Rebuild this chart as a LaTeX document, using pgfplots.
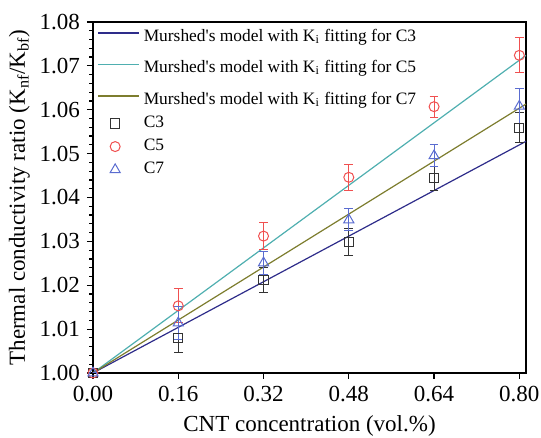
\documentclass[border=0pt]{standalone}
\usepackage{fontspec}
\setmainfont{Liberation Serif}
\usepackage{pgfplots}
\pgfplotsset{compat=1.18}
\definecolor{cThree}{HTML}{2E2C8A}
\definecolor{cFive}{HTML}{4FAFB0}
\definecolor{cSeven}{HTML}{7D7D2E}
\definecolor{mThree}{HTML}{333333}
\definecolor{mFive}{HTML}{F05050}
\definecolor{mSeven}{HTML}{5A6CD0}
\newcommand{\lstrut}{\rule[-5.5pt]{0pt}{15.5pt}}
\pgfplotsset{longline/.style={legend image code/.code={\draw[##1, line width=0.7pt] (0cm,0cm) -- (0.72cm,0cm);}}}

\begin{document}
\begin{tikzpicture}
\begin{axis}[
  name=ax,
  scale only axis, width=216.5pt, height=175.5pt,
  xmin=0, xmax=0.8125, ymin=1.0, ymax=1.08,
  xtick={0,0.16,0.32,0.48,0.64,0.80},
  ytick={1.00,1.01,...,1.08},
  minor y tick num=4,
  xticklabel style={/pgf/number format/.cd, fixed, fixed zerofill, precision=2},
  yticklabel style={/pgf/number format/.cd, fixed, fixed zerofill, precision=2},
  /pgf/number format/assume math mode=true,
  tick label style={font=\fontsize{11.5}{13}\selectfont},
  label style={font=\fontsize{11.5}{13}\selectfont},
  xlabel={CNT concentration (vol.\%)},
  ylabel={Thermal conductivity ratio (K$_{\mathrm{nf}}$/K$_{\mathrm{bf}}$)},
  ylabel style={yshift=-2pt},
  tick align=outside, xtick pos=bottom, ytick pos=left,
  major tick length=3pt, minor tick length=1.8pt,
  axis line style={line width=0.9pt}, every tick/.style={black, line width=0.6pt},
  legend style={draw=none, fill=none, font=\fontsize{8.7}{10}\selectfont,
    at={(0.0,1.0)}, anchor=north west, row sep=0.3pt, yshift=4.5pt, xshift=-1pt},
  legend cell align=left,
  error bars/error bar style={line width=0.5pt},
  error bars/error mark options={rotate=90, mark size=2.2pt, line width=0.5pt},
]
\addplot[cThree, line width=0.6pt, mark=none, longline] coordinates {(0,1.0)(0.8125,1.0528)};
\addlegendentry{\lstrut Murshed\textquotesingle s model with K$_{\mathrm{i}}$ fitting for C3}
\addplot[cFive, line width=0.6pt, mark=none, longline] coordinates {(0,1.0)(0.8125,1.0724)};
\addlegendentry{\lstrut Murshed\textquotesingle s model with K$_{\mathrm{i}}$ fitting for C5}
\addplot[cSeven, line width=0.6pt, mark=none, longline] coordinates {(0,1.0)(0.8125,1.0613)};
\addlegendentry{\lstrut Murshed\textquotesingle s model with K$_{\mathrm{i}}$ fitting for C7}

\addplot[only marks, mark=square, mark size=2.3pt, mThree, mark options={line width=0.5pt},
  error bars/.cd, y dir=both, y explicit] coordinates {
  (0,1.0) +- (0,0)
  (0.16,1.0080) +- (0,0.0034)
  (0.32,1.0212) +- (0,0.0028)
  (0.48,1.0298) +- (0,0.0031)
  (0.64,1.0444) +- (0,0.0027)
  (0.80,1.0559) +- (0,0.0034)
};
\addlegendentry{C3}
\addplot[only marks, mark=o, mark size=2.5pt, mFive, mark options={line width=0.5pt},
  error bars/.cd, y dir=both, y explicit] coordinates {
  (0,1.0) +- (0,0)
  (0.16,1.0153) +- (0,0.0039)
  (0.32,1.0312) +- (0,0.0031)
  (0.48,1.0446) +- (0,0.0030)
  (0.64,1.0607) +- (0,0.0024)
  (0.80,1.0724) +- (0,0.0040)
};
\addlegendentry{C5}
\addplot[only marks, mark=triangle, mark size=2.9pt, mSeven, mark options={line width=0.5pt},
  error bars/.cd, y dir=both, y explicit] coordinates {
  (0,1.0) +- (0,0)
  (0.16,1.0114) +- (0,0.0038)
  (0.32,1.0251) +- (0,0.0026)
  (0.48,1.0349) +- (0,0.0025)
  (0.64,1.0495) +- (0,0.0025)
  (0.80,1.0608) +- (0,0.0040)
};
\addlegendentry{C7}
\end{axis}
\pgfresetboundingbox
\path (ax.south west) ++(-46.5pt,-32.5pt) rectangle ([shift={(7.5pt,11pt)}]ax.north east);
\end{tikzpicture}
\end{document}
